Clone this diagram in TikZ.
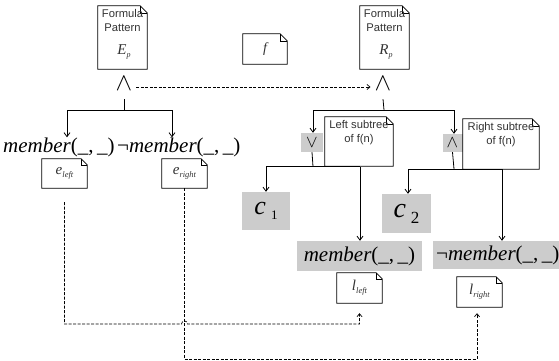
\documentclass[tikz,border=0pt]{standalone}
\usepackage{fontspec}
\setmainfont{Liberation Serif}
\setsansfont{Liberation Sans}
\usetikzlibrary{arrows.meta}
\definecolor{boxgray}{RGB}{204,204,204}
\definecolor{txtgray}{RGB}{51,51,51}
\newcommand\dogear[2][7pt]{%
  \draw[docline] (#2.south west) -- (#2.north west) -- ([xshift=-#1]#2.north east)
     -- ([yshift=-#1]#2.north east) -- (#2.south east) -- cycle;
  \draw[docline,line width=0.5pt] ([xshift=-#1]#2.north east) -- ([xshift=-#1,yshift=-#1]#2.north east)
     -- ([yshift=-#1]#2.north east);}
\newcommand\lbl[2]{{\fontsize{15}{15}\selectfont\itshape #1}{\fontsize{8.5}{8.5}\selectfont\itshape\raisebox{-3pt}{#2}}}
\newcommand\memb{member{\upshape(\_,\,\_)}}
\newcommand\pat[1]{{\rmfamily\itshape\fontsize{15}{15}\selectfont #1}{\rmfamily\itshape\fontsize{8}{8}\selectfont\raisebox{-2.5pt}{p}}}
\begin{document}
\begin{tikzpicture}[x=1pt,y=-1pt,
  docline/.style={line width=0.8pt, black},
  docnode/.style={inner sep=0pt, fill=white},
  doctext/.style={inner sep=0pt, align=center, text=txtgray, font=\sffamily\fontsize{11.2}{14.5}\selectfont},
  lbltext/.style={inner sep=0pt, text=txtgray},
  symnode/.style={inner sep=0pt, font=\fontsize{24}{24}\selectfont},
  graysym/.style={inner sep=0pt, fill=boxgray, font=\fontsize{16}{16}\selectfont},
  graybox/.style={inner sep=0pt, fill=boxgray},
  memtext/.style={inner sep=0pt, font=\fontsize{21}{21}\selectfont\itshape},
  wire/.style={line width=0.8pt},
  conn/.style={line width=0.8pt, -{Straight Barb[length=4pt,width=6pt]}},
  dashconn/.style={line width=0.7pt, dash pattern=on 3pt off 1.5pt, -{Straight Barb[length=3pt,width=5pt]}}
]
\useasboundingbox (0,0) rectangle (559,361);
\fill[white] (0,0) rectangle (559,361);

% formula pattern documents
\node[docnode, minimum width=49pt, minimum height=63pt] (docE) at (122.5,37.5) {};
\dogear{docE}
\node[doctext, anchor=north] (docEt) at ([yshift=-3pt]docE.north) {Formula\\Pattern};
\node[lbltext] (docEp) at (124,52) {\pat{E}};
\node[docnode, minimum width=49pt, minimum height=63pt] (docR) at (384.5,37.5) {};
\dogear{docR}
\node[doctext, anchor=north] (docRt) at ([yshift=-3pt]docR.north) {Formula\\Pattern};
\node[lbltext] (docRp) at (386,52) {\pat{R}};
\node[docnode, minimum width=44pt, minimum height=30pt] (docf) at (265,49) {};
\dogear{docf}
\node[lbltext, font=\fontsize{14}{14}\selectfont\itshape] (docft) at (docf.center) {f};

% top conjunctions
\node[symnode] (andE) at (124,84) {$\wedge$};
\node[symnode] (andR) at (383,84) {$\wedge$};
\draw[dashconn] ([xshift=4pt,yshift=-3pt]andE.east) -- ([xshift=-4pt,yshift=-3pt]andR.west);

% left tree
\coordinate (jE) at (124,110);
\coordinate (jEl) at (67,110);
\coordinate (jEr) at (172,110);
\node[memtext, anchor=west] (mem1) at (3,147) {\memb};
\node[memtext, anchor=west] (mem2) at (117,147) {{\upshape ¬}\memb};
\draw[wire] ([yshift=-8pt]andE.south) -- (jE);
\draw[wire] (jEl) -- (jEr);
\draw[conn] (jEl) -- (jEl |- mem1.north);
\draw[conn] (jEr) -- (jEr |- mem2.north);
\node[docnode, minimum width=45pt, minimum height=29pt] (eL) at (64.5,173.5) {};
\dogear[6pt]{eL}
\node[lbltext] (eLt) at (eL.center) {\lbl{e}{left}};
\node[docnode, minimum width=45pt, minimum height=29pt] (eR) at (184.5,173.5) {};
\dogear[6pt]{eR}
\node[lbltext] (eRt) at (eR.center) {\lbl{e}{right}};

% right tree
\coordinate (jR) at (384,110);
\coordinate (jRl) at (313,110);
\coordinate (jRr) at (454,110);
\draw[wire] ([yshift=-8pt]andR.south) -- (jR);
\draw[wire] (jRl) -- (jRr);
\node[graysym, minimum width=22pt, minimum height=19pt] (orN) at (312,142.5) {$\vee$};
\node[graysym, minimum width=20pt, minimum height=18pt] (andN) at (452.5,143) {$\wedge$};
\draw[conn] (jRl) -- (jRl |- orN.north);
\draw[conn] (jRr) -- (jRr |- andN.north);
\node[docnode, minimum width=68pt, minimum height=49pt] (lsub) at (359,141.5) {};
\dogear{lsub}
\node[doctext, anchor=north] (lsubt) at ([yshift=-3pt]lsub.north) {Left subtree\\of f(n)};
\node[docnode, minimum width=76pt, minimum height=50pt] (rsub) at (501,144) {};
\dogear{rsub}
\node[doctext, anchor=north] (rsubt) at ([yshift=-3pt]rsub.north) {Right subtree\\of f(n)};

% second level
\coordinate (jL) at (313,166.5);
\coordinate (jLl) at (266,166.5);
\coordinate (jLr) at (360,166.5);
\coordinate (jM) at (454,169);
\coordinate (jMl) at (408,169);
\coordinate (jMr) at (502,169);
\node[graybox, minimum width=48pt, minimum height=38pt] (c1) at (266,211) {{\fontsize{26}{26}\selectfont\itshape c}\hspace{5pt}{\fontsize{13}{13}\selectfont\raisebox{-5pt}{1}}};
\node[graybox, minimum width=49pt, minimum height=39pt] (c2) at (406.5,213.5) {{\fontsize{28}{28}\selectfont\itshape c}\hspace{5pt}{\fontsize{17}{17}\selectfont\raisebox{-6pt}{2}}};
\node[graybox, memtext, minimum width=125pt, minimum height=30pt] (mem3) at (359.5,256) {\memb};
\node[graybox, memtext, anchor=west, inner xsep=3pt, minimum height=28pt] (mem4) at (433,255) {{\upshape ¬}\memb};
\draw[wire] (orN.south) -- (jL);
\draw[wire] (jLl) -- (jLr);
\draw[conn] (jLl) -- (jLl |- c1.north);
\draw[conn] (jLr) -- (jLr |- mem3.north);
\draw[wire] (andN.south) -- (jM);
\draw[wire] (jMl) -- (jMr);
\draw[conn] (jMl) -- (jMl |- c2.north);
\draw[conn] (jMr) -- (jMr |- mem4.north);

\node[docnode, minimum width=45pt, minimum height=30pt] (lL) at (359.5,288) {};
\dogear[6pt]{lL}
\node[lbltext] (lLt) at (lL.center) {\lbl{l}{left}};
\node[docnode, minimum width=45pt, minimum height=30pt] (lR) at (479.5,292) {};
\dogear[6pt]{lR}
\node[lbltext] (lRt) at (lR.center) {\lbl{l}{right}};

% dashed correspondences
\coordinate (hopA) at (181.5,324);
\coordinate (hopB) at (187.5,324);
\coordinate (botR) at (477,359);
\draw[dashconn] ([yshift=-14pt]eL.south) |- (hopA) .. controls +(0,-4) and +(0,-4) .. (hopB) -| ([yshift=-10pt]lL.south);
\draw[dashconn] (eR.south) |- (botR) -- ([xshift=-2.5pt,yshift=-6pt]lR.south);
\end{tikzpicture}
\end{document}
